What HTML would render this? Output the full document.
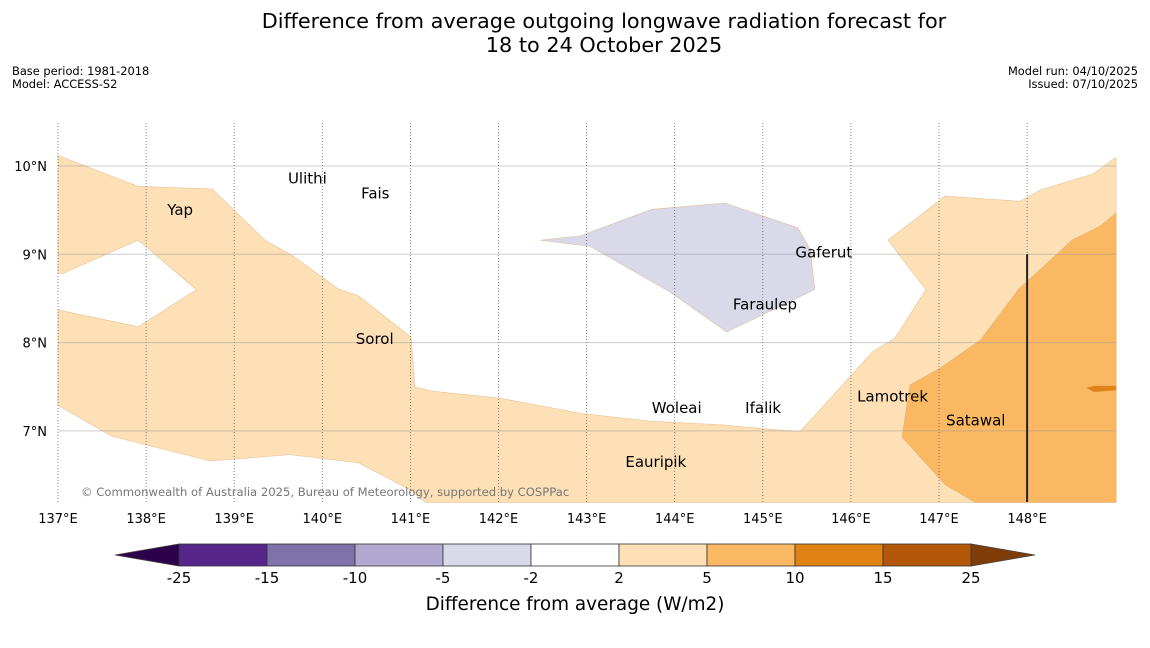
<!DOCTYPE html>
<html><head><meta charset="utf-8"><style>
body{margin:0;background:#fff;font-family:"DejaVu Sans","Liberation Sans",sans-serif;}
</style></head><body>
<svg id="c" width="1150" height="644" xmlns="http://www.w3.org/2000/svg" font-family="DejaVu Sans, Liberation Sans, sans-serif">
<text x="604" y="28" font-size="20.8" text-anchor="middle">Difference from average outgoing longwave radiation forecast for</text>
<text x="604" y="52" font-size="20.8" text-anchor="middle">18 to 24 October 2025</text>
<text x="12" y="75" font-size="11.4">Base period: 1981-2018</text>
<text x="12" y="88" font-size="11.4">Model: ACCESS-S2</text>
<text x="1138" y="75" font-size="11.4" text-anchor="end">Model run: 04/10/2025</text>
<text x="1138" y="88" font-size="11.4" text-anchor="end">Issued: 07/10/2025</text>
<g id="map"></g>
<g id="cbar"></g>
<text x="575" y="610" font-size="18.4" text-anchor="middle">Difference from average (W/m2)</text>
</svg>
<script>
const lonTicks=[137,138,139,140,141,142,143,144,145,146,147,148];
const latTicks=[7,8,9,10];
const light=[[137,10.12],[137.91,9.77],[138.75,9.74],[139.35,9.16],[139.67,8.98],[140.18,8.61],[140.41,8.53],[141.01,8.06],[141.05,7.5],[141.25,7.45],[142.02,7.37],[142.93,7.2],[143.72,7.11],[144.51,7.07],[145.42,6.99],[146.25,7.9],[146.5,8.05],[146.85,8.6],[146.42,9.16],[147.07,9.66],[147.92,9.6],[148.15,9.73],[148.75,9.91],[149.01,10.1],[149.01,6.19],[141.17,6.19],[141.0,6.33],[140.41,6.64],[139.63,6.73],[138.73,6.66],[137.61,6.94],[137,7.29],[137,8.37],[137.91,8.18],[138.57,8.6],[137.91,9.16],[137.05,8.78],[137,8.79]];
const mid=[[149.01,9.47],[148.83,9.32],[148.51,9.16],[147.9,8.6],[147.47,8.03],[147.01,7.71],[146.67,7.52],[146.58,6.93],[147.07,6.39],[147.41,6.19],[149.01,6.19]];
const dark=[[148.67,7.49],[148.76,7.51],[149.01,7.51],[149.01,7.46],[148.76,7.44]];
const lav=[[142.47,9.16],[142.93,9.21],[143.74,9.51],[144.57,9.58],[145.4,9.3],[145.54,9.05],[145.59,8.6],[144.59,8.12],[143.95,8.57],[143.04,9.09]];
const places=[["Yap",138.24,9.5],["Ulithi",139.61,9.86],["Fais",140.44,9.69],["Gaferut",145.37,9.02],["Faraulep",144.66,8.43],["Sorol",140.38,8.04],["Woleai",143.74,7.26],["Ifalik",144.8,7.26],["Lamotrek",146.07,7.39],["Satawal",147.08,7.12],["Eauripik",143.44,6.65]];
const cbLevels=["-25","-15","-10","-5","-2","2","5","10","15","25"];
const cbColors=["#57268a","#7f72aa","#b1a9d0","#d9d9ea","#ffffff","#fde0b6","#fbb862","#e08214","#b35808"];
const NS="http://www.w3.org/2000/svg";
const X=lon=>58+(lon-137)*88.1, Y=lat=>166-(lat-10)*88.3;
const map=document.getElementById('map');
function mk(t,a,p){const e=document.createElementNS(NS,t);for(const k in a)e.setAttribute(k,a[k]);(p||map).appendChild(e);return e;}
function poly(pts,fill,name){const e=mk('polygon',{points:pts.map(p=>X(p[0])+','+Y(p[1])).join(' '),fill:fill,stroke:'#d9a56a','stroke-width':0.6,'stroke-opacity':0.6});

}
poly(light,'#fde0b6','anomaly-2-to-5');
poly(mid,'#fbb862','anomaly-5-to-10');
poly(dark,'#e08214','anomaly-10-to-15');
poly(lav,'#d9d9ea','anomaly-neg5-to-neg2');
latTicks.forEach(v=>{const l=mk('line',{x1:58,x2:1116,y1:Y(v),y2:Y(v),stroke:'#999','stroke-opacity':0.5,'stroke-width':1});


const t=mk('text',{x:47,y:Y(v)+5,'font-size':13,'text-anchor':'end'});t.textContent=v+'°N';

});
lonTicks.forEach(v=>{const l=mk('line',{x1:X(v),x2:X(v),y1:123,y2:502,stroke:'#666','stroke-width':0.8,'stroke-dasharray':'1,2'});


const t=mk('text',{x:X(v),y:523,'font-size':13,'text-anchor':'middle'});t.textContent=v+'°E';

});
const bl=mk('line',{x1:X(148),x2:X(148),y1:Y(9),y2:502,stroke:'#222','stroke-width':2});


places.forEach(p=>{const t=mk('text',{x:X(p[1]),y:Y(p[2])+5,'font-size':15});t.textContent=p[0];

});
const cp=mk('text',{x:81,y:496,'font-size':11.6,fill:'#777'});cp.textContent='© Commonwealth of Australia 2025, Bureau of Meteorology, supported by COSPPac';


const cb=document.getElementById('cbar');
const cx=i=>179+i*88;
const la=mk('polygon',{points:'115,555 179,544 179,566',fill:'#2d004b',stroke:'#444','stroke-width':0.8},cb);


const ra=mk('polygon',{points:'1035,555 971,544 971,566',fill:'#7f3b08',stroke:'#444','stroke-width':0.8},cb);


cbColors.forEach((c,i)=>{const r=mk('rect',{x:cx(i),y:544,width:88,height:22,fill:c,stroke:'#333','stroke-width':0.8},cb);

});
cbLevels.forEach((v,i)=>{const t=mk('text',{x:cx(i),y:583,'font-size':15,'text-anchor':'middle'},cb);t.textContent=v;

});
</script>
</body></html>
